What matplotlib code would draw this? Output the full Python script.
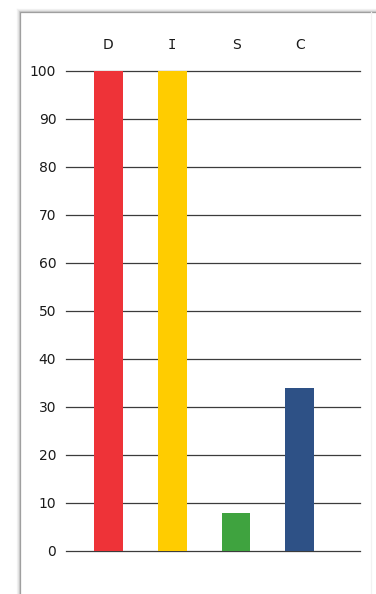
import matplotlib

matplotlib.use("Agg")
import matplotlib.pyplot as plt
from matplotlib.lines import Line2D

plt.rcParams["font.family"] = ["DejaVu Sans"]

# DISC profile scores
categories = ["D", "I", "S", "C"]
scores = [100, 100, 8, 34]
bar_colors = ["#EE3338", "#FFCC00", "#3FA33F", "#2E5186"]
y_ticks = [0, 10, 20, 30, 40, 50, 60, 70, 80, 90, 100]

W, H = 376, 594
fig = plt.figure(figsize=(W / 100, H / 100), dpi=100)
fig.patch.set_facecolor("white")

# axes placed in pixel terms: x 66..360, y 71..551
ax = fig.add_axes([66 / W, (H - 551) / H, (360 - 66) / W, 480 / H])
x = list(range(len(categories)))
ax.bar(x, scores, width=29 / 64, color=bar_colors, zorder=3)

ax.set_xlim(-0.66, 3.94)
ax.set_ylim(0, 100)
ax.set_yticks(y_ticks)
ax.set_yticklabels([str(v) for v in y_ticks], fontsize=10, color="#1a1a1a")
ax.tick_params(axis="y", length=0, pad=7)

ax.xaxis.tick_top()
ax.set_xticks(x)
ax.set_xticklabels(categories, fontsize=10, color="#1a1a1a")
ax.tick_params(axis="x", length=0, pad=14)
# Verdana-style serif capital I
ax.get_xticklabels()[1].set_family("DejaVu Sans Mono")

for v in y_ticks:
    ax.axhline(v, color="#3c3c3c", linewidth=0.9, zorder=1, clip_on=False)

for s in ax.spines.values():
    s.set_visible(False)
ax.set_facecolor("none")

# soft panel border on the left and top
for off, col in [(0, "#9a9a9a"), (1, "#c4c4c4"), (2, "#e2e2e2"), (3, "#f0f0f0")]:
    xl = (19.5 - off) / W
    yt = 1 - (11.5 - off) / H
    fig.add_artist(Line2D([xl, xl], [0, yt], color=col, linewidth=0.9,
                          transform=fig.transFigure))
    fig.add_artist(Line2D([xl, 1], [yt, yt], color=col, linewidth=0.9,
                          transform=fig.transFigure))
fig.add_artist(Line2D([371 / W, 371 / W], [0, 1 - 12 / H], color="#f2f2f2",
                      linewidth=0.9, transform=fig.transFigure))

fig.savefig("out.png", dpi=100)
